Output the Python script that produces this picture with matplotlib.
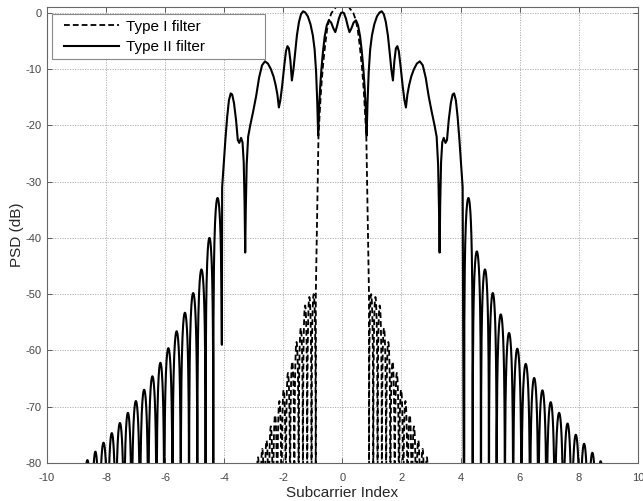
import numpy as np
import matplotlib
matplotlib.use("Agg")
import matplotlib.pyplot as plt
from matplotlib.lines import Line2D
from matplotlib.legend_handler import HandlerLine2D

plt.rcParams['font.family'] = ['Liberation Sans', 'DejaVu Sans']
plt.rcParams['axes.unicode_minus'] = False

# ---------------- data ----------------
# Type II filter: inner part (right half, mirrored to the left)
t2_inner_x = [0.00, 0.05, 0.12, 0.18, 0.24, 0.30, 0.38, 0.46, 0.53, 0.60, 0.66, 0.71,
              0.75, 0.79, 0.82, 0.85, 0.89, 0.94, 1.00, 1.08, 1.17, 1.26, 1.33, 1.40,
              1.47, 1.54, 1.60, 1.66, 1.71, 1.76, 1.81, 1.86, 1.91, 1.97, 2.04, 2.10,
              2.15, 2.20, 2.26, 2.33, 2.42, 2.52, 2.62, 2.72, 2.82, 2.92, 3.02, 3.12,
              3.19, 3.24, 3.27, 3.29, 3.31, 3.34, 3.38, 3.43, 3.49, 3.54, 3.60, 3.67,
              3.73, 3.78, 3.84, 3.90, 3.96, 4.02, 4.07]
t2_inner_y = [0.1, 0.0, -1.0, -2.3, -3.4, -2.8, -1.7, -1.3, -2.2, -4.2, -7.0, -10.0,
              -13.0, -17.0, -21.8, -16.0, -10.5, -6.5, -4.0, -2.0, -0.6, 0.1, 0.3, -0.2,
              -1.6, -4.0, -7.0, -10.2, -12.0, -8.5, -6.3, -5.9, -6.8, -9.5, -13.0, -15.5,
              -16.8, -14.5, -12.8, -11.3, -10.0, -9.0, -8.6, -9.3, -11.5, -14.8, -17.5, -20.0,
              -22.0, -27.0, -35.0, -42.6, -34.0, -26.5, -23.0, -22.2, -23.1, -22.6, -19.0, -16.0,
              -14.5, -14.3, -15.5, -18.5, -22.5, -27.0, -31.0]

# Type II filter: outer side lobes (nulls, peak levels, null depths)
t2_right_nulls = [4.12, 4.41, 4.69, 4.96, 5.22, 5.50, 5.78, 6.06, 6.35, 6.63, 6.91,
                  7.19, 7.48, 7.76, 8.04, 8.32, 8.60, 8.88]
t2_right_peaks = [-32.9, -42.4, -45.6, -49.8, -53.6, -56.9, -59.7, -62.4, -64.9, -67.1,
                  -69.2, -71.1, -73.0, -75.0, -76.6, -78.2, -79.7]
t2_right_depth = [-100] * 18
t2_left_nulls = [-4.08, -4.37, -4.63, -4.91, -5.19, -5.47, -5.75, -6.03, -6.29, -6.57,
                 -6.85, -7.13, -7.39, -7.67, -7.94, -8.23, -8.49, -8.77]
t2_left_peaks = [-32.9, -40.0, -45.6, -49.8, -53.3, -56.6, -59.6, -62.2, -64.6, -67.0,
                 -69.0, -71.1, -72.9, -74.7, -76.4, -78.0, -79.5]
t2_left_depth = [-59] + [-100] * 17

# Type I filter: main lobe (right half, mirrored) and side lobes (mirrored)
t1_main_x = [0.00, 0.10, 0.20, 0.28, 0.37, 0.45, 0.52, 0.59, 0.66, 0.72, 0.77, 0.81,
             0.84, 0.87, 0.90]
t1_main_y = [2.0, 1.8, 1.2, 0.6, 0.0, -1.2, -3.0, -6.0, -9.5, -13.5, -18.0, -22.0,
             -31.0, -41.0, -50.0]
t1_side_nulls = [0.90, 1.045, 1.19, 1.335, 1.48, 1.625, 1.77, 1.915, 2.06, 2.205,
                 2.35, 2.495, 2.64, 2.785, 2.93]
t1_side_peaks = [-50.0, -50.5, -52.0, -56.0, -58.5, -62.0, -64.0, -67.0, -69.0, -71.5,
                 -73.5, -76.0, -77.5, -79.0]
t1_side_depth = [-100] * 15

labels = ["Type I filter", "Type II filter"]
xticks = list(range(-10, 11, 2))
yticks = list(range(-80, 1, 10))


def lobes(nulls, peaks, depths, n=40):
    xs, ys = [], []
    for i in range(len(peaks)):
        a, b = nulls[i], nulls[i + 1]
        t = np.linspace(0, 1, n)
        s = np.abs(np.sin(np.pi * t))
        y = peaks[i] + 20 * np.log10(np.maximum(s, 1e-6))
        floor = depths[i] + (depths[i + 1] - depths[i]) * t
        y = np.maximum(y, floor)
        x = a + (b - a) * t
        if i > 0:
            x, y = x[1:], y[1:]
        xs.append(x)
        ys.append(y)
    return np.concatenate(xs), np.concatenate(ys)


# assemble Type II
ix = np.array(t2_inner_x)
iy = np.array(t2_inner_y)
rx, ry = lobes(t2_right_nulls, t2_right_peaks, t2_right_depth)
lx, ly = lobes(t2_left_nulls, t2_left_peaks, t2_left_depth)
x2 = np.concatenate([lx[::-1], -ix[::-1][:-1], ix, rx])
y2 = np.concatenate([ly[::-1], iy[::-1][:-1], iy, ry])

# assemble Type I
mx = np.array(t1_main_x)
my = np.array(t1_main_y)
sx, sy = lobes(t1_side_nulls, t1_side_peaks, t1_side_depth)
x1 = np.concatenate([-sx[::-1], -mx[::-1][:-1], mx, sx])
y1 = np.concatenate([sy[::-1], my[::-1][:-1], my, sy])

# ---------------- figure ----------------
fig = plt.figure(figsize=(6.43, 5.01), dpi=100)
ax = fig.add_axes([0.073, 0.076, 0.919, 0.911])

ax.plot(x1, y1, color='black', lw=1.3, linestyle='--', dashes=(3.2, 1.7), label=labels[0])
ax.plot(x2, y2, color='black', lw=1.5, linestyle='-', label=labels[1])

ax.set_xlim(-10, 10)
ax.set_ylim(-80, 1.15)
ax.set_xticks(xticks)
ax.set_yticks(yticks)
ax.set_xticklabels([str(v) for v in xticks])
ax.set_yticklabels([str(v) for v in yticks])

ax.grid(True, color='#a8a8a8', linestyle=(0, (1.5, 1.5)), linewidth=0.6)
ax.tick_params(direction='in', length=3.5, width=0.6, top=True, right=True,
               labelsize=8, colors='#444444', pad=4)
ax.tick_params(axis='x', pad=7)
for sp in ax.spines.values():
    sp.set_color('#666666')
    sp.set_linewidth(0.8)

ax.set_xlabel('Subcarrier Index', fontsize=11, color='#262626', labelpad=2.5)
ax.set_ylabel('PSD (dB)', fontsize=11, color='#262626', labelpad=1)

leg = ax.legend(loc='upper left', bbox_to_anchor=(0.0085, 0.0, 0.36, 0.983),
                mode='expand', borderaxespad=0, fontsize=11, handlelength=4.05,
                handletextpad=0.45, labelspacing=0.42, borderpad=0.35,
                fancybox=False, framealpha=1,
                handler_map={Line2D: HandlerLine2D(xpad=0.45)})
leg.get_frame().set_edgecolor('#888888')
leg.get_frame().set_linewidth(0.8)

fig.savefig('out.png', dpi=100)
